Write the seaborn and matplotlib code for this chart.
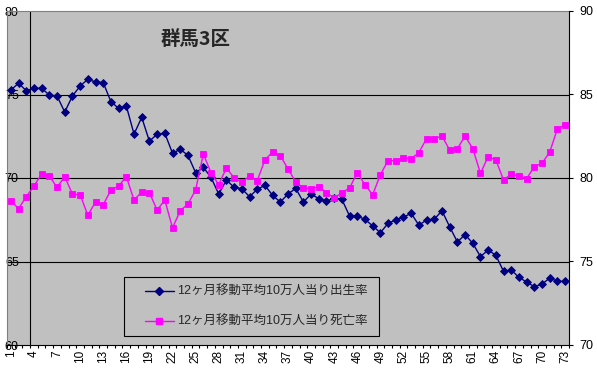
import numpy as np
import pandas as pd
import matplotlib
matplotlib.use('Agg')
import matplotlib.pyplot as plt
import seaborn as sns
from matplotlib.lines import Line2D
from matplotlib.patches import Rectangle

months = list(range(1, 74))
birth = [75.27, 75.67, 75.23, 75.37, 75.37, 74.97, 74.91, 73.95, 74.91, 75.51,
         75.91, 75.75, 75.71, 74.57, 74.17, 74.31, 72.63, 73.63, 72.20, 72.63,
         72.68, 71.48, 71.72, 71.36, 70.32, 70.64, 70.04, 69.04, 69.88, 69.44,
         69.36, 68.88, 69.32, 69.56, 68.96, 68.56, 69.04, 69.38, 68.56, 69.04,
         68.76, 68.60, 68.80, 68.72, 67.72, 67.72, 67.52, 67.13, 66.72, 67.29,
         67.49, 67.65, 67.89, 67.17, 67.49, 67.53, 68.04, 67.08, 66.17, 66.61,
         66.09, 65.29, 65.69, 65.37, 64.41, 64.49, 64.05, 63.77, 63.49, 63.65,
         64.01, 63.81, 63.81]
death = [78.64, 78.16, 78.88, 79.52, 80.24, 80.12, 79.44, 80.08, 79.04, 79.00,
         77.77, 78.56, 78.40, 79.28, 79.52, 80.08, 78.68, 79.16, 79.12, 78.08,
         78.68, 77.01, 78.04, 78.44, 79.28, 81.44, 80.32, 79.60, 80.60, 80.00,
         79.76, 80.12, 79.84, 81.08, 81.56, 81.32, 80.56, 79.76, 79.40, 79.36,
         79.48, 79.12, 78.80, 79.12, 79.40, 80.32, 79.60, 79.00, 80.20, 81.04,
         81.04, 81.20, 81.16, 81.52, 82.36, 82.36, 82.51, 81.68, 81.76, 82.51,
         81.76, 80.28, 81.28, 81.08, 79.88, 80.24, 80.12, 79.96, 80.68, 80.88,
         81.56, 82.95, 83.19]
xtick_values = list(range(1, 74, 3))
xtick_labels = [str(v) for v in xtick_values]
left_ticks = [60, 65, 70, 75, 80]
right_ticks = [70, 75, 80, 85, 90]
series_names = ["12ヶ月移動平均10万人当り出生率", "12ヶ月移動平均10万人当り死亡率"]
title = "群馬3区"

sns.set_theme(style='white')
plt.rcParams['font.family'] = ['Liberation Sans', 'Noto Sans CJK JP']

W, H = 597, 375
fig = plt.figure(figsize=(W / 100, H / 100), dpi=100)
fig.patch.set_facecolor('white')
ax = fig.add_axes([7 / W, 30 / H, 562 / W, 334 / H])
ax.set_facecolor('#C0C0C0')

df = pd.DataFrame({'month': months, 'birth': birth, 'death': death})

for v in [65, 70, 75]:
    ax.axhline(v, color='black', lw=0.8, zorder=1)
ax.axvline(3.5, color='black', lw=0.8, zorder=1)

blue = '#000080'
pink = '#FF00FF'
sns.lineplot(data=df, x='month', y='birth', ax=ax, color=blue, marker='D',
             markersize=4.3, markeredgecolor=blue, markeredgewidth=0.6,
             linewidth=1, legend=False, zorder=3)
ax2 = ax.twinx()
sns.lineplot(data=df, x='month', y='death', ax=ax2, color=pink, marker='s',
             markersize=4.5, markeredgecolor=pink, markeredgewidth=0.6,
             linewidth=1, legend=False, zorder=3)

ax.set_xlim(0.5, 73.5)
ax.set_ylim(60, 80)
ax2.set_ylim(70, 90)
ax.set_yticks(left_ticks)
ax.set_yticklabels([str(v) for v in left_ticks])
ax2.set_yticks(right_ticks)
ax2.set_yticklabels([str(v) for v in right_ticks])
ax.set_xticks(xtick_values)
ax.set_xticklabels(xtick_labels)
ax.set_xticks(np.arange(0.5, 74, 1), minor=True)
ax.set_xlabel('')
ax.set_ylabel('')
ax2.set_ylabel('')

ax.tick_params(axis='y', left=True, length=0, pad=-8.5, labelsize=9, labelcolor='black')
ax.tick_params(axis='x', which='major', bottom=True, length=0, pad=3.6,
               labelrotation=90, labelsize=8.5, labelcolor='black')
ax.tick_params(axis='x', which='minor', bottom=True, length=2.5, width=0.8,
               direction='out', color='black')
ax2.tick_params(axis='y', right=True, length=3, width=0.8, direction='out',
                pad=4.5, labelsize=9, color='black', labelcolor='black')

for s in ['left', 'top']:
    ax.spines[s].set_color('#808080')
    ax.spines[s].set_linewidth(0.8)
ax.spines['bottom'].set_color('black')
ax.spines['bottom'].set_linewidth(0.8)
ax.spines['right'].set_visible(False)
for s in ['left', 'top', 'bottom']:
    ax2.spines[s].set_visible(False)
ax2.spines['right'].set_color('black')
ax2.spines['right'].set_linewidth(0.8)

fig.text(161 / W, 1 - 39 / H, title, fontsize=14, fontweight='bold',
         ha='left', va='center', family=['Noto Sans CJK JP'])

handles = [
    Line2D([], [], color=blue, marker='D', markersize=4.3, markeredgecolor=blue, lw=1),
    Line2D([], [], color=pink, marker='s', markersize=4.5, markeredgecolor=pink, lw=1),
]
fig.legend(handles, series_names, loc='upper left',
           bbox_to_anchor=(145 / W, 1 - 286 / H), frameon=False, fontsize=9,
           handlelength=2.3, handletextpad=0.3, labelspacing=1.45, borderpad=0,
           borderaxespad=0)
fig.add_artist(Rectangle((124 / W, 1 - 336 / H), (379 - 124) / W, (336 - 277) / H,
                         transform=fig.transFigure, fill=False,
                         edgecolor='black', lw=0.8))

fig.savefig('out.png', dpi=100)
